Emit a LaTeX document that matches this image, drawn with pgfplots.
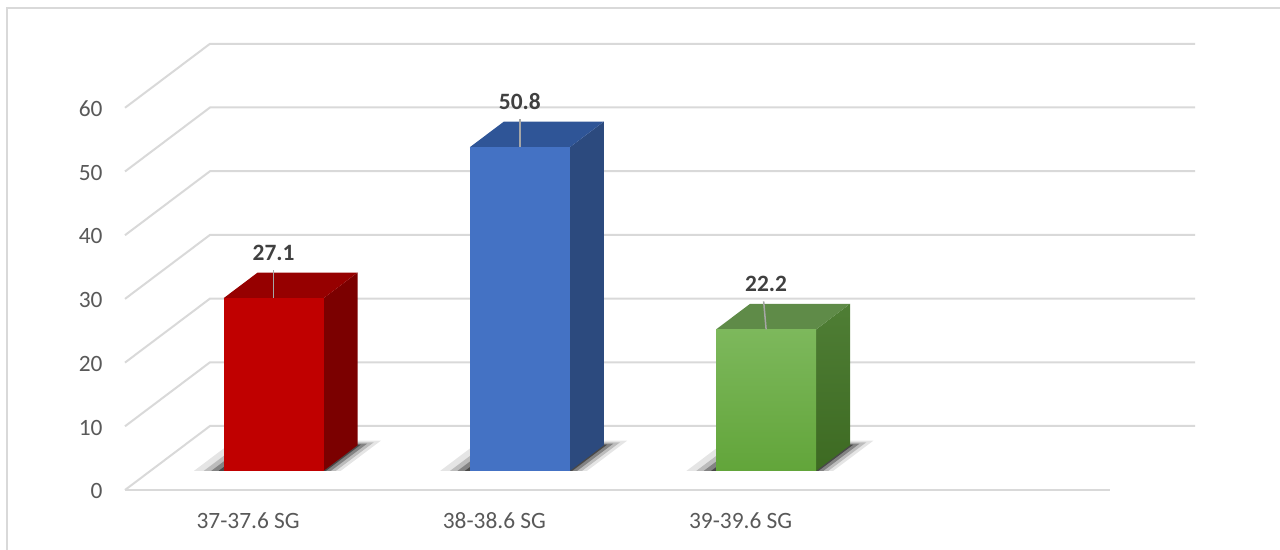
\documentclass[border=0pt]{standalone}
\usepackage{pgfplots}
\pgfplotsset{compat=1.18}
\usepackage{fontspec}
\setmainfont{Carlito}

\definecolor{gridc}{HTML}{D9D9D9}
\definecolor{tickc}{HTML}{595959}
\definecolor{labc}{HTML}{404040}
\definecolor{leadc}{HTML}{A6A6A6}
\definecolor{redF}{HTML}{C00000}
\definecolor{redT}{HTML}{960000}
\definecolor{redS}{HTML}{7B0000}
\definecolor{bluF}{HTML}{4472C4}
\definecolor{bluT}{HTML}{2F5597}
\definecolor{bluS}{HTML}{2C4A7E}
\definecolor{grnFt}{HTML}{7DB85C}
\definecolor{grnFb}{HTML}{62A53A}
\definecolor{grnT}{HTML}{5F8B48}
\definecolor{grnSt}{HTML}{4F7E35}
\definecolor{grnSb}{HTML}{3D6A22}

\tikzset{
  gridline/.style={gridc, line width=1pt},
  ticklab/.style={anchor=east, inner sep=0pt, xshift=-11pt, yshift=-0.6pt,
    text=tickc, font=\fontsize{11.7}{14}\selectfont},
  catlab/.style={anchor=base, inner sep=0pt, yshift=-19.5pt, text=tickc,
    font=\fontsize{11.7}{14}\selectfont},
}

\begin{document}
\begin{tikzpicture}
\begin{axis}[
  x={(123.125pt,0pt)}, y={(42.5pt,32pt)}, z={(0pt,3.185pt)},
  xmin=0, xmax=4, ymin=0, ymax=1, zmin=0, zmax=60,
  hide axis, clip=false,
]
\coordinate (O) at (axis cs:0,0,0);

% side wall and back wall gridlines
\draw[gridline] (axis cs:0,0,0) -- (axis cs:0,1,0) -- (axis cs:4,1,0);
\draw[gridline] (axis cs:0,0,10) -- (axis cs:0,1,10) -- (axis cs:4,1,10);
\draw[gridline] (axis cs:0,0,20) -- (axis cs:0,1,20) -- (axis cs:4,1,20);
\draw[gridline] (axis cs:0,0,30) -- (axis cs:0,1,30) -- (axis cs:4,1,30);
\draw[gridline] (axis cs:0,0,40) -- (axis cs:0,1,40) -- (axis cs:4,1,40);
\draw[gridline] (axis cs:0,0,50) -- (axis cs:0,1,50) -- (axis cs:4,1,50);
\draw[gridline] (axis cs:0,0,60) -- (axis cs:0,1,60) -- (axis cs:4,1,60);
% front edge of the floor
\draw[gridline] (axis cs:0,0,0) -- (axis cs:4,0,0);

% value axis labels
\node[ticklab] at (axis cs:0,0,0) {0};
\node[ticklab] at (axis cs:0,0,10) {10};
\node[ticklab] at (axis cs:0,0,20) {20};
\node[ticklab] at (axis cs:0,0,30) {30};
\node[ticklab] at (axis cs:0,0,40) {40};
\node[ticklab] at (axis cs:0,0,50) {50};
\node[ticklab] at (axis cs:0,0,60) {60};

% category labels
\node[catlab] at (axis cs:0.5,0,0) {37-37.6 SG};
\node[catlab] at (axis cs:1.5,0,0) {38-38.6 SG};
\node[catlab] at (axis cs:2.5,0,0) {39-39.6 SG};

% soft floor shadows, built from stacked translucent footprints
\pgfplotsset{shd/.style={fill=black, draw=none}}
\addplot3[shd, fill opacity=0.10] coordinates {(0.177,0.3,0) (0.773,0.3,0) (0.773,0.77,0) (0.177,0.77,0)};
\addplot3[shd, fill opacity=0.18] coordinates {(0.217,0.3,0) (0.753,0.3,0) (0.753,0.745,0) (0.217,0.745,0)};
\addplot3[shd, fill opacity=0.30] coordinates {(0.247,0.3,0) (0.733,0.3,0) (0.733,0.725,0) (0.247,0.725,0)};
\addplot3[shd, fill opacity=0.45] coordinates {(0.277,0.3,0) (0.713,0.3,0) (0.713,0.71,0) (0.277,0.71,0)};

\addplot3[shd, fill opacity=0.10] coordinates {(1.177,0.3,0) (1.773,0.3,0) (1.773,0.77,0) (1.177,0.77,0)};
\addplot3[shd, fill opacity=0.18] coordinates {(1.217,0.3,0) (1.753,0.3,0) (1.753,0.745,0) (1.217,0.745,0)};
\addplot3[shd, fill opacity=0.30] coordinates {(1.247,0.3,0) (1.733,0.3,0) (1.733,0.725,0) (1.247,0.725,0)};
\addplot3[shd, fill opacity=0.45] coordinates {(1.277,0.3,0) (1.713,0.3,0) (1.713,0.71,0) (1.277,0.71,0)};

\addplot3[shd, fill opacity=0.10] coordinates {(2.177,0.3,0) (2.773,0.3,0) (2.773,0.77,0) (2.177,0.77,0)};
\addplot3[shd, fill opacity=0.18] coordinates {(2.217,0.3,0) (2.753,0.3,0) (2.753,0.745,0) (2.217,0.745,0)};
\addplot3[shd, fill opacity=0.30] coordinates {(2.247,0.3,0) (2.733,0.3,0) (2.733,0.725,0) (2.247,0.725,0)};
\addplot3[shd, fill opacity=0.45] coordinates {(2.277,0.3,0) (2.713,0.3,0) (2.713,0.71,0) (2.277,0.71,0)};

% 37-37.6 SG : 27.1
\addplot3[fill=redS, draw=none] coordinates {(0.703,0.3,0) (0.703,0.7,0) (0.703,0.7,27.1) (0.703,0.3,27.1)};
\addplot3[fill=redT, draw=none] coordinates {(0.297,0.3,27.1) (0.703,0.3,27.1) (0.703,0.7,27.1) (0.297,0.7,27.1)};
\addplot3[fill=redF, draw=none] coordinates {(0.297,0.3,0) (0.703,0.3,0) (0.703,0.3,27.1) (0.297,0.3,27.1)};

% 38-38.6 SG : 50.8
\addplot3[fill=bluS, draw=none] coordinates {(1.703,0.3,0) (1.703,0.7,0) (1.703,0.7,50.8) (1.703,0.3,50.8)};
\addplot3[fill=bluT, draw=none] coordinates {(1.297,0.3,50.8) (1.703,0.3,50.8) (1.703,0.7,50.8) (1.297,0.7,50.8)};
\addplot3[fill=bluF, draw=none] coordinates {(1.297,0.3,0) (1.703,0.3,0) (1.703,0.3,50.8) (1.297,0.3,50.8)};

% 39-39.6 SG : 22.2
\addplot3[top color=grnSt, bottom color=grnSb, draw=none] coordinates {(2.703,0.3,0) (2.703,0.7,0) (2.703,0.7,22.2) (2.703,0.3,22.2)};
\addplot3[fill=grnT, draw=none] coordinates {(2.297,0.3,22.2) (2.703,0.3,22.2) (2.703,0.7,22.2) (2.297,0.7,22.2)};
\addplot3[top color=grnFt, bottom color=grnFb, draw=none] coordinates {(2.297,0.3,0) (2.703,0.3,0) (2.703,0.3,22.2) (2.297,0.3,22.2)};

% leader lines
\addplot3[leadc, line width=0.75pt] coordinates {(0.5,0.3,27.1) (0.5,0.3,31.5)};
\addplot3[leadc, line width=0.75pt] coordinates {(1.5,0.3,50.8) (1.5,0.3,55.2)};
\addplot3[leadc, line width=0.75pt] coordinates {(2.5,0.3,22.2) (2.49,0.3,26.6)};

% value labels
\addplot3[draw=none, mark=none, point meta=z,
  nodes near coords={\pgfmathprintnumber[fixed,fixed zerofill,precision=1,assume math mode=true]{\pgfplotspointmeta}},
  every node near coord/.append style={anchor=base, inner sep=0pt, yshift=19pt,
    text=labc, font=\fontsize{11.7}{14}\selectfont\bfseries}]
  coordinates {(0.5,0.3,27.1) (1.5,0.3,50.8) (2.5,0.3,22.2)};
\end{axis}

% chart frame, in pixel units from the floor's front-left corner
\begin{scope}[shift={(O)}, x=0.5pt, y=-0.5pt]
  \draw[gridc, line width=1pt] (-118,-482) rectangle (1200,100);
  \pgfresetboundingbox
  \path[use as bounding box] (-125,-490) rectangle (1155,60);
\end{scope}
\end{tikzpicture}
\end{document}
